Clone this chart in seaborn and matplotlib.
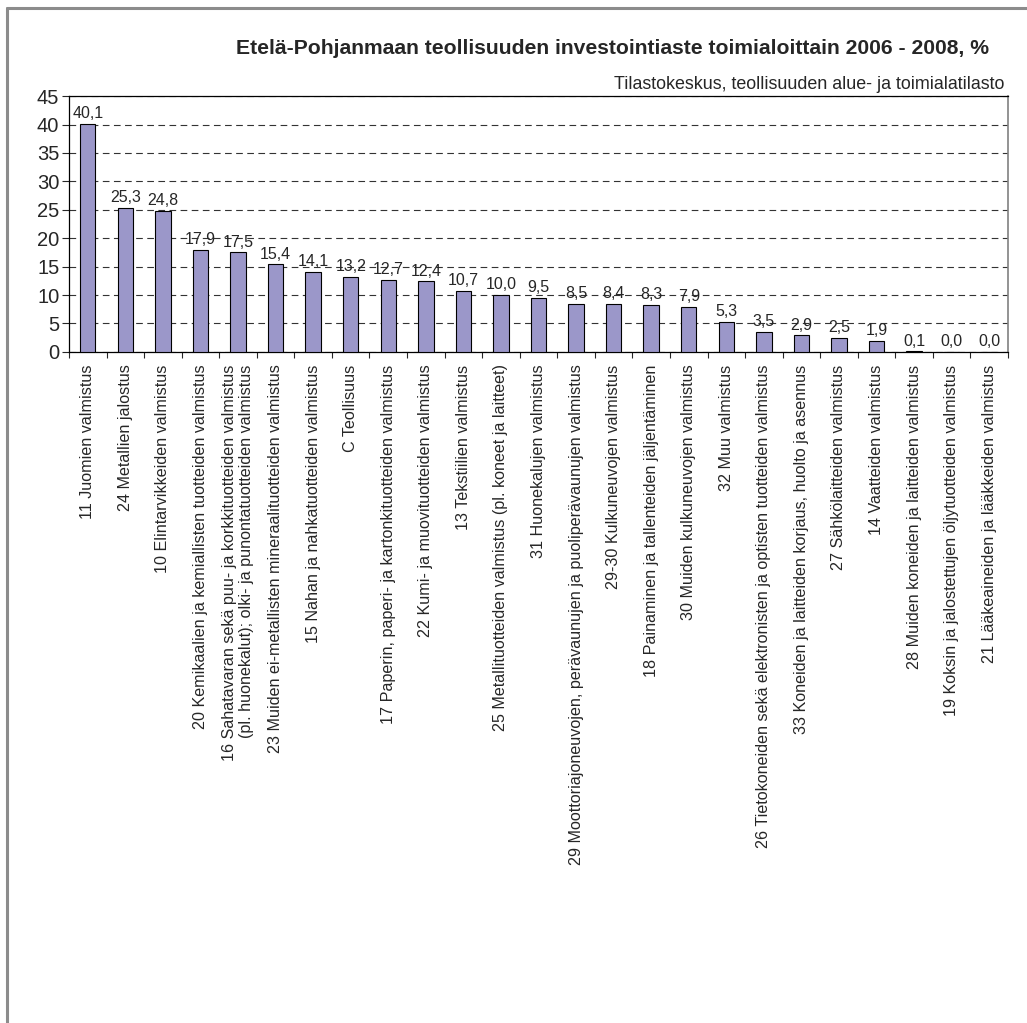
import matplotlib
matplotlib.use("Agg")
import matplotlib.pyplot as plt
import seaborn as sns
from matplotlib.lines import Line2D
from matplotlib.ticker import FixedLocator, NullFormatter

sns.set_style("white")
plt.rcParams['font.family'] = ['Liberation Sans', 'DejaVu Sans']

# Data
categories = [
    "11 Juomien valmistus",
    "24 Metallien jalostus",
    "10 Elintarvikkeiden valmistus",
    "20 Kemikaalien ja kemiallisten tuotteiden valmistus",
    "16 Sahatavaran sekä puu- ja korkkituotteiden valmistus\n(pl. huonekalut); olki- ja punontatuotteiden valmistus",
    "23 Muiden ei-metallisten mineraalituotteiden valmistus",
    "15 Nahan ja nahkatuotteiden valmistus",
    "C Teollisuus",
    "17 Paperin, paperi- ja kartonkituotteiden valmistus",
    "22 Kumi- ja muovituotteiden valmistus",
    "13 Tekstiilien valmistus",
    "25 Metallituotteiden valmistus (pl. koneet ja laitteet)",
    "31 Huonekalujen valmistus",
    "29 Moottoriajoneuvojen, perävaunujen ja puoliperävaunujen valmistus",
    "29-30 Kulkuneuvojen valmistus",
    "18 Painaminen ja tallenteiden jäljentäminen",
    "30 Muiden kulkuneuvojen valmistus",
    "32 Muu valmistus",
    "26 Tietokoneiden sekä elektronisten ja optisten tuotteiden valmistus",
    "33 Koneiden ja laitteiden korjaus, huolto ja asennus",
    "27 Sähkölaitteiden valmistus",
    "14 Vaatteiden valmistus",
    "28 Muiden koneiden ja laitteiden valmistus",
    "19 Koksin ja jalostettujen öljytuotteiden valmistus",
    "21 Lääkeaineiden ja lääkkeiden valmistus",
]
values = [40.1, 25.3, 24.8, 17.9, 17.5, 15.4, 14.1, 13.2, 12.7, 12.4, 10.7,
          10.0, 9.5, 8.5, 8.4, 8.3, 7.9, 5.3, 3.5, 2.9, 2.5, 1.9, 0.1, 0.0, 0.0]
y_ticks = list(range(0, 50, 5))

title = "Etelä-Pohjanmaan teollisuuden investointiaste toimialoittain 2006 - 2008, %"
source = "Tilastokeskus, teollisuuden alue- ja toimialatilasto"

# Plot
fig = plt.figure(figsize=(10.27, 10.23), dpi=100)
ax = fig.add_axes([0.0672, 0.656, 0.9143, 0.250])

sns.barplot(x=categories, y=values, color="#9b97c9", saturation=1,
            width=0.41, edgecolor="black", linewidth=0.8, ax=ax, zorder=3)

ax.set_ylim(0, 45)
ax.set_xlim(-0.5, len(categories) - 0.5)
ax.set_yticks(y_ticks)
ax.tick_params(axis='y', labelsize=14.5, length=5, width=0.8, direction='out', left=True, pad=2)
ax.yaxis.grid(True, linestyle=(0, (6, 4)), color="#333333", linewidth=0.8, zorder=0)
ax.set_axisbelow(True)

ax.set_xticks(range(len(categories)))
ax.set_xticklabels(categories, rotation=90, ha='center', va='top',
                   multialignment='right', fontsize=11.6)
ax.tick_params(axis='x', length=0, pad=9)
ax.xaxis.set_minor_locator(FixedLocator([i + 0.5 for i in range(-1, len(categories))]))
ax.xaxis.set_minor_formatter(NullFormatter())
ax.tick_params(axis='x', which='minor', length=4, width=0.8, bottom=True, direction='out')

for side in ['left', 'top', 'bottom']:
    ax.spines[side].set_color('black')
    ax.spines[side].set_linewidth(0.9)
ax.spines['right'].set_color('#808080')
ax.spines['right'].set_linewidth(1.2)

labels = [f"{v:.1f}".replace('.', ',') for v in values]
ax.bar_label(ax.containers[0], labels=labels, padding=2, fontsize=11.5)

ax.set_xlabel("")
ax.set_ylabel("")

fig.text(0.596, 0.953, title, ha='center', va='center', fontsize=15.2, fontweight='bold')
fig.text(0.978, 0.917, source, ha='right', va='center', fontsize=12.9)

# outer frame (top and left)
fig.add_artist(Line2D([0.0068, 1.0], [0.9922, 0.9922], color="#8c8c8c", lw=2.2, transform=fig.transFigure))
fig.add_artist(Line2D([0.0068, 0.0068], [0.0, 0.9922], color="#8c8c8c", lw=2.2, transform=fig.transFigure))

plt.savefig('out.png', dpi=100)
